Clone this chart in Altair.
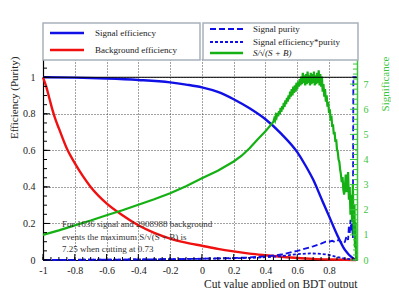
import altair as alt
import pandas as pd
import numpy as np

FONT = "Liberation Serif"
BLUE = "#1010e6"
RED = "#f01010"
GREEN = "#14b014"
GREEN_AX = "#3cc43c"

# ---------------- data ----------------
sig_x = [-1.0, -0.8, -0.6, -0.4, -0.2, -0.1, 0.0, 0.1, 0.2, 0.3, 0.4, 0.5, 0.6, 0.65, 0.7, 0.75, 0.8, 0.85, 0.9, 0.95, 0.97]
sig_eff = [1.0, 0.998, 0.993, 0.985, 0.972, 0.96, 0.945, 0.92, 0.88, 0.83, 0.77, 0.69, 0.59, 0.52, 0.44, 0.34, 0.24, 0.14, 0.055, 0.01, 0.0]

bkg_x = [-1.0, -0.98, -0.96, -0.94, -0.92, -0.9, -0.85, -0.8, -0.75, -0.7, -0.6, -0.5, -0.4, -0.3, -0.2, -0.1, 0.0, 0.1, 0.2, 0.3, 0.4, 0.5, 0.6, 0.7, 0.8, 0.9, 0.97]
bkg_eff = [1.0, 0.95, 0.885, 0.82, 0.765, 0.72, 0.61, 0.53, 0.46, 0.40, 0.31, 0.245, 0.19, 0.148, 0.117, 0.095, 0.078, 0.061, 0.047, 0.035, 0.026, 0.018, 0.011, 0.006, 0.003, 0.001, 0.0]

pur_x = [-1.0, -0.8, -0.6, -0.4, -0.2, 0.0, 0.1, 0.2, 0.3, 0.4, 0.5, 0.6, 0.65, 0.7, 0.75, 0.78, 0.8, 0.82, 0.84, 0.86, 0.88, 0.89, 0.9, 0.91, 0.92, 0.925, 0.93, 0.935, 0.94, 0.945, 0.95, 0.953, 0.972]
purity = [0.0006, 0.001, 0.0018, 0.003, 0.0045, 0.007, 0.009, 0.011, 0.014, 0.02, 0.03, 0.05, 0.062, 0.075, 0.09, 0.1, 0.1, 0.105, 0.098, 0.11, 0.095, 0.09, 0.1, 0.13, 0.11, 0.19, 0.14, 0.22, 0.16, 0.2, 0.12, 1.0, 1.0]

ep_x = [-1.0, -0.6, -0.2, 0.0, 0.2, 0.3, 0.4, 0.5, 0.6, 0.68, 0.75, 0.8, 0.85, 0.9, 0.93, 0.95, 0.97]
eff_pur = [0.0006, 0.0018, 0.0044, 0.0066, 0.0097, 0.0116, 0.0154, 0.021, 0.032, 0.036, 0.034, 0.028, 0.016, 0.008, 0.005, 0.002, 0.0]

sgn_x = [-1.0, -0.9, -0.8, -0.7, -0.6, -0.5, -0.4, -0.3, -0.2, -0.1, 0.0, 0.1, 0.2, 0.25, 0.3, 0.35, 0.4,
         0.45, 0.455, 0.46, 0.465, 0.47, 0.475, 0.48, 0.485, 0.49, 0.495,
         0.50, 0.505, 0.51, 0.515, 0.52, 0.525, 0.53, 0.535, 0.54, 0.545,
         0.55, 0.555, 0.56, 0.565, 0.57, 0.575, 0.58, 0.585, 0.59, 0.595,
         0.60, 0.605, 0.61, 0.615, 0.62, 0.625, 0.63, 0.635, 0.64, 0.645,
         0.65, 0.655, 0.66, 0.665, 0.67, 0.675, 0.68, 0.685, 0.69, 0.695,
         0.70, 0.705, 0.71, 0.715, 0.72, 0.725, 0.73, 0.735, 0.74, 0.745,
         0.75, 0.755, 0.76, 0.765, 0.77, 0.775, 0.78, 0.785, 0.79, 0.795,
         0.80, 0.805, 0.81, 0.815, 0.82, 0.825, 0.83, 0.835, 0.84, 0.845,
         0.85, 0.855, 0.86, 0.865, 0.87, 0.875, 0.88, 0.885, 0.89, 0.895,
         0.90, 0.905, 0.91, 0.915, 0.92, 0.925, 0.93, 0.935, 0.94, 0.945,
         0.95, 0.955, 0.96, 0.963, 0.966, 0.97]
significance = [1.0, 1.18, 1.38, 1.57, 1.78, 1.98, 2.2, 2.42, 2.66, 2.94, 3.25, 3.55, 3.92, 4.15, 4.45, 4.8, 5.12,
                5.5, 5.62, 5.55, 5.75, 5.68, 5.85, 5.72, 5.92, 5.8, 6.05,
                5.9, 6.12, 6.0, 6.25, 6.1, 6.35, 6.2, 6.45, 6.3, 6.55,
                6.4, 6.7, 6.5, 6.8, 6.55, 6.9, 6.65, 6.95, 6.7, 7.05,
                6.8, 7.1, 6.9, 7.2, 6.95, 7.3, 7.0, 7.45, 7.05, 7.35,
                6.95, 7.4, 7.0, 7.5, 7.05, 7.35, 6.95, 7.45, 7.0, 7.4,
                7.05, 7.5, 6.95, 7.35, 7.0, 7.45, 7.05, 7.55, 6.95, 7.4,
                6.9, 7.3, 6.7, 7.0, 6.5, 6.8, 6.3, 6.55, 6.1, 6.3,
                5.85, 6.0, 5.55, 5.75, 5.3, 5.4, 5.0, 5.1, 4.7, 4.8,
                4.4, 4.3, 4.0, 3.9, 3.6, 3.4, 3.1, 3.3, 2.8, 2.6,
                2.9, 3.4, 2.7, 3.1, 3.5, 2.4, 2.9, 1.8, 2.6, 1.5,
                3.0, 1.0, 2.2, 0.5, 1.5, 0.0]

legend_left = ["Signal efficiency", "Background efficiency"]
legend_right = ["Signal purity", "Signal efficiency*purity", "S/\u221a(S + B)"]
info_lines = ["For 1636 signal and 2908988 background",
              "events the maximum S/\u221a(S + B) is",
              "7.25 when cutting at 0.73"]

x_labels = [-1, -0.8, -0.6, -0.4, -0.2, 0, 0.2, 0.4, 0.6, 0.8]
y_labels = [0, 0.2, 0.4, 0.6, 0.8, 1]
sig_labels = [0, 1, 2, 3, 4, 5, 6, 7]

X_DOM = [-1, 0.976]
Y_DOM = [0, 1.1]
S_DOM = [0, 8]
W, H = 314, 201

x_minor = [round(v, 2) for v in np.arange(-1.0, 0.976, 0.05)]
y_minor = [round(v, 2) for v in np.arange(0.0, 1.1, 0.05)]
s_minor = [round(v, 1) for v in np.arange(0.0, 8.0, 0.2)]

x_axis = alt.Axis(values=x_labels, labelExpr="'' + datum.value", grid=True, gridDash=[1, 2],
                  gridColor="#444", gridWidth=1, ticks=False, domainColor="#000", domainWidth=1.2,
                  labelFont=FONT, labelFontSize=10, labelColor="#222", labelPadding=5,
                  labelOverlap=False, labelFlush=False, labelBound=False, labelSeparation=0,
                  title="Cut value applied on BDT output", titleFont=FONT, titleFontSize=11.5,
                  titleFontWeight="normal", titleColor="#222", titleAnchor="end", titlePadding=3)

def xs():
    return alt.X("x:Q", scale=alt.Scale(domain=X_DOM, nice=False, zero=False), axis=x_axis)

def ys(field="y:Q", dom=Y_DOM):
    return alt.Y(field, scale=alt.Scale(domain=dom, nice=False, zero=False), axis=None)

y_axis = alt.Axis(values=y_labels, labelExpr="'' + datum.value", grid=True, gridDash=[1, 2],
                  gridColor="#444", gridWidth=1, ticks=False, domainColor="#000", domainWidth=1.2,
                  labelFont=FONT, labelFontSize=10, labelColor="#222", labelPadding=8,
                  labelOverlap=False, labelFlush=False, labelBound=False,
                  title="Efficiency (Purity)", titleFont=FONT, titleFontSize=11,
                  titleFontWeight="normal", titleColor="#222", titleAngle=270,
                  titleX=-29, titleY=-3, titleAlign="right", titleBaseline="middle")
s_axis = alt.Axis(orient="right", values=sig_labels, grid=False, ticks=False, domainColor=GREEN_AX,
                  domainWidth=1.5, labelFont=FONT, labelFontSize=10, labelColor=GREEN_AX, labelPadding=6,
                  labelOverlap=False, labelFlush=False, labelBound=False,
                  title="Significance", titleFont=FONT, titleFontSize=11, titleFontWeight="normal",
                  titleColor=GREEN_AX, titleAngle=270, titleX=28, titleY=-3,
                  titleAlign="right", titleBaseline="middle")

df_sig = pd.DataFrame({"x": sig_x, "y": sig_eff})
df_bkg = pd.DataFrame({"x": bkg_x, "y": bkg_eff})
df_pur = pd.DataFrame({"x": pur_x, "y": purity})
df_ep = pd.DataFrame({"x": ep_x, "y": eff_pur})
df_sgn = pd.DataFrame({"x": sgn_x, "s": significance})

sig_layer = alt.Chart(df_sig).mark_line(color=BLUE, strokeWidth=2.4, interpolate="monotone").encode(
    x=xs(), y=alt.Y("y:Q", scale=alt.Scale(domain=Y_DOM, nice=False, zero=False), axis=y_axis))
bkg_layer = alt.Chart(df_bkg).mark_line(color=RED, strokeWidth=2.4, interpolate="monotone").encode(
    x=xs(), y=ys())
pur_layer = alt.Chart(df_pur).mark_line(color=BLUE, strokeWidth=1.8, strokeDash=[6, 3]).encode(
    x=xs(), y=ys())
ep_layer = alt.Chart(df_ep).mark_line(color=BLUE, strokeWidth=1.8, strokeDash=[3, 2]).encode(
    x=xs(), y=ys())
sgn_layer = alt.Chart(df_sgn).mark_line(color=GREEN, strokeWidth=2.2).encode(
    x=xs(), y=alt.Y("s:Q", scale=alt.Scale(domain=S_DOM, nice=False, zero=False), axis=s_axis))

one_line = alt.Chart(pd.DataFrame({"y": [1]})).mark_rule(color="#000", strokeWidth=1).encode(y=ys())

# inward ticks
xt_major = alt.Chart(pd.DataFrame({"x": x_labels})).mark_rule(color="#000", strokeWidth=1).encode(
    x=xs(), y=alt.value(H), y2=alt.value(H - 6))
xt_minor = alt.Chart(pd.DataFrame({"x": x_minor})).mark_rule(color="#000", strokeWidth=1).encode(
    x=xs(), y=alt.value(H), y2=alt.value(H - 3))
yt_major = alt.Chart(pd.DataFrame({"y": y_labels})).mark_rule(color="#000", strokeWidth=1).encode(
    y=ys(), x=alt.value(0), x2=alt.value(7))
yt_minor = alt.Chart(pd.DataFrame({"y": y_minor})).mark_rule(color="#000", strokeWidth=1).encode(
    y=ys(), x=alt.value(0), x2=alt.value(4))
st_major = alt.Chart(pd.DataFrame({"s": sig_labels})).mark_rule(color=GREEN_AX, strokeWidth=1).encode(
    y=ys("s:Q", S_DOM), x=alt.value(W), x2=alt.value(W - 7))
st_minor = alt.Chart(pd.DataFrame({"s": s_minor})).mark_rule(color=GREEN_AX, strokeWidth=1).encode(
    y=ys("s:Q", S_DOM), x=alt.value(W), x2=alt.value(W - 4))

# legends (decoration)
def box(x0, x1, y0, y1):
    return alt.Chart(pd.DataFrame({"k": [0]})).mark_rect(fill="white", stroke="#a9b1ba", strokeWidth=1.5).encode(
        x=alt.value(x0), x2=alt.value(x1), y=alt.value(y0), y2=alt.value(y1))

def sample(x0, x1, yy, color, dash=None, width=2.4):
    kw = dict(color=color, strokeWidth=width)
    if dash:
        kw["strokeDash"] = dash
    return alt.Chart(pd.DataFrame({"k": [0]})).mark_rule(**kw).encode(
        x=alt.value(x0), x2=alt.value(x1), y=alt.value(yy))

def label(txt, xx, yy, italic=False):
    return alt.Chart(pd.DataFrame({"t": [txt]})).mark_text(
        font=FONT, fontSize=9, color="#222", align="left", baseline="middle",
        fontStyle="italic" if italic else "normal").encode(
        text="t:N", x=alt.value(xx), y=alt.value(yy))

legend_layers = [
    box(0, 157, -36, 1), box(160, 315, -36, 1),
    sample(7, 41, -26, BLUE), label(legend_left[0], 52, -26),
    sample(7, 41, -9, RED), label(legend_left[1], 52, -9),
    sample(167, 200, -30, BLUE, [6, 3], 2), label(legend_right[0], 210, -30),
    sample(167, 200, -17, BLUE, [3, 2], 2), label(legend_right[1], 210, -17),
    sample(167, 200, -6, GREEN), label(legend_right[2], 210, -6, italic=True),
]

info = alt.Chart(pd.DataFrame({"t": ["\n".join(info_lines)]})).mark_text(
    font=FONT, fontSize=9, color="#333", align="left", baseline="middle", lineBreak="\n",
    lineHeight=12.5).encode(text="t:N", x=alt.value(19), y=alt.value(165))

chart = alt.layer(
    sig_layer, bkg_layer, pur_layer, ep_layer, sgn_layer, one_line,
    xt_major, xt_minor, yt_major, yt_minor, st_major, st_minor,
    info, *legend_layers
).resolve_scale(y="independent").properties(
    width=W, height=H,
    autosize=alt.AutoSizeParams(type="none"),
    padding={"left": 35, "top": 51, "right": 34, "bottom": 28},
).configure_view(stroke=None).configure_axis(labelOverlap=False).configure(background="white")

chart.save("out.html", embed_options={"renderer": "svg", "actions": False})
